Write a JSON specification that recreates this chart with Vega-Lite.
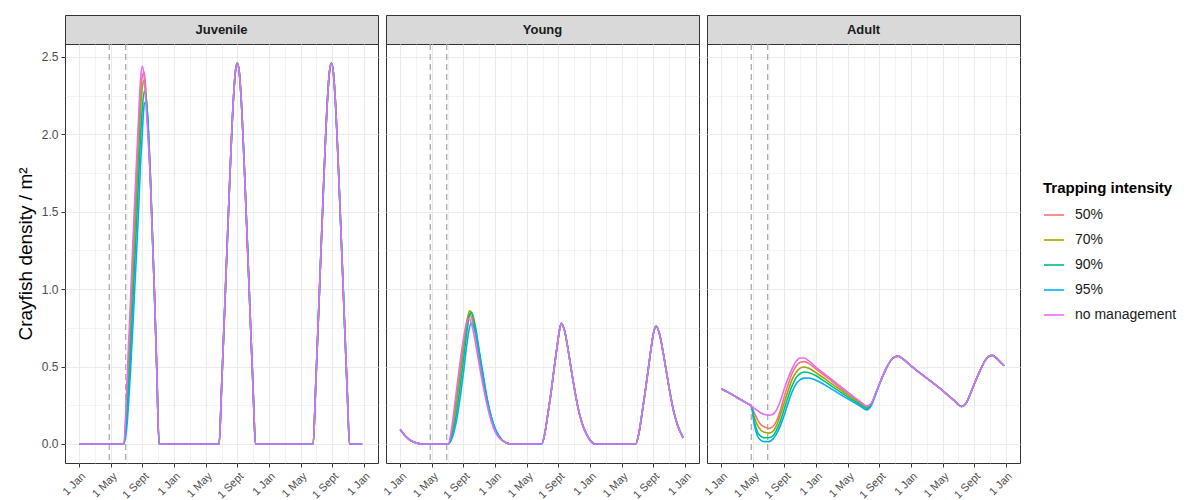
{
"$schema": "https://vega.github.io/schema/vega-lite/v6.json",
"padding": {"left": 15, "top": 14, "right": 0, "bottom": 0},
"config": {
 "font": "Liberation Sans",
 "view": {"stroke": "#333333", "strokeWidth": 1},
 "axis": {"domain": false, "grid": true, "gridColor": "#ebebeb", "tickColor": "#333333", "tickSize": 4, "labelColor": "#4d4d4d", "labelFontSize": 12, "labelPadding": 3, "titleColor": "#000000", "titleFontWeight": "normal", "labelOverlap": false, "labelBound": false}
},
"datasets": {
 "vl": [{"m": 3.8}, {"m": 5.88}],
 "juv": [
{"g":"50%","m":0,"d":0},{"g":"50%","m":5.65,"d":0},{"g":"50%","m":6,"d":0.28},{"g":"50%","m":6.5,"d":0.85},{"g":"50%","m":7,"d":1.45},{"g":"50%","m":7.5,"d":2.0},{"g":"50%","m":7.75,"d":2.26},{"g":"50%","m":8,"d":2.38},{"g":"50%","m":8.25,"d":2.4},{"g":"50%","m":8.5,"d":2.2},{"g":"50%","m":9,"d":1.71},{"g":"50%","m":9.5,"d":1},{"g":"50%","m":9.8,"d":0.5},{"g":"50%","m":10.1,"d":0},
{"g":"50%","m":17.7,"d":0},{"g":"50%","m":18,"d":0.35},{"g":"50%","m":18.5,"d":1},{"g":"50%","m":19,"d":1.65},{"g":"50%","m":19.5,"d":2.22},{"g":"50%","m":19.75,"d":2.4},{"g":"50%","m":20,"d":2.46},{"g":"50%","m":20.25,"d":2.4},{"g":"50%","m":20.5,"d":2.22},{"g":"50%","m":21,"d":1.65},{"g":"50%","m":21.5,"d":1},{"g":"50%","m":22,"d":0.35},{"g":"50%","m":22.3,"d":0},{"g":"50%","m":29.6,"d":0},{"g":"50%","m":29.9,"d":0.35},{"g":"50%","m":30.4,"d":1},{"g":"50%","m":30.9,"d":1.65},{"g":"50%","m":31.4,"d":2.22},{"g":"50%","m":31.65,"d":2.4},{"g":"50%","m":31.9,"d":2.46},{"g":"50%","m":32.15,"d":2.4},{"g":"50%","m":32.4,"d":2.22},{"g":"50%","m":32.9,"d":1.65},{"g":"50%","m":33.4,"d":1},{"g":"50%","m":33.9,"d":0.35},{"g":"50%","m":34.2,"d":0},{"g":"50%","m":35.8,"d":0},
{"g":"70%","m":0,"d":0},{"g":"70%","m":5.65,"d":0},{"g":"70%","m":6,"d":0.22},{"g":"70%","m":6.5,"d":0.75},{"g":"70%","m":7,"d":1.32},{"g":"70%","m":7.5,"d":1.88},{"g":"70%","m":7.75,"d":2.15},{"g":"70%","m":8,"d":2.31},{"g":"70%","m":8.25,"d":2.35},{"g":"70%","m":8.5,"d":2.22},{"g":"70%","m":9,"d":1.72},{"g":"70%","m":9.5,"d":1},{"g":"70%","m":9.8,"d":0.5},{"g":"70%","m":10.1,"d":0},
{"g":"70%","m":17.7,"d":0},{"g":"70%","m":18,"d":0.35},{"g":"70%","m":18.5,"d":1},{"g":"70%","m":19,"d":1.65},{"g":"70%","m":19.5,"d":2.22},{"g":"70%","m":19.75,"d":2.4},{"g":"70%","m":20,"d":2.46},{"g":"70%","m":20.25,"d":2.4},{"g":"70%","m":20.5,"d":2.22},{"g":"70%","m":21,"d":1.65},{"g":"70%","m":21.5,"d":1},{"g":"70%","m":22,"d":0.35},{"g":"70%","m":22.3,"d":0},{"g":"70%","m":29.6,"d":0},{"g":"70%","m":29.9,"d":0.35},{"g":"70%","m":30.4,"d":1},{"g":"70%","m":30.9,"d":1.65},{"g":"70%","m":31.4,"d":2.22},{"g":"70%","m":31.65,"d":2.4},{"g":"70%","m":31.9,"d":2.46},{"g":"70%","m":32.15,"d":2.4},{"g":"70%","m":32.4,"d":2.22},{"g":"70%","m":32.9,"d":1.65},{"g":"70%","m":33.4,"d":1},{"g":"70%","m":33.9,"d":0.35},{"g":"70%","m":34.2,"d":0},{"g":"70%","m":35.8,"d":0},
{"g":"90%","m":0,"d":0},{"g":"90%","m":5.65,"d":0},{"g":"90%","m":6,"d":0.15},{"g":"90%","m":6.5,"d":0.6},{"g":"90%","m":7,"d":1.15},{"g":"90%","m":7.5,"d":1.7},{"g":"90%","m":7.75,"d":1.98},{"g":"90%","m":8,"d":2.18},{"g":"90%","m":8.25,"d":2.28},{"g":"90%","m":8.5,"d":2.22},{"g":"90%","m":9,"d":1.73},{"g":"90%","m":9.5,"d":1},{"g":"90%","m":9.8,"d":0.5},{"g":"90%","m":10.1,"d":0},
{"g":"90%","m":17.7,"d":0},{"g":"90%","m":18,"d":0.35},{"g":"90%","m":18.5,"d":1},{"g":"90%","m":19,"d":1.65},{"g":"90%","m":19.5,"d":2.22},{"g":"90%","m":19.75,"d":2.4},{"g":"90%","m":20,"d":2.46},{"g":"90%","m":20.25,"d":2.4},{"g":"90%","m":20.5,"d":2.22},{"g":"90%","m":21,"d":1.65},{"g":"90%","m":21.5,"d":1},{"g":"90%","m":22,"d":0.35},{"g":"90%","m":22.3,"d":0},{"g":"90%","m":29.6,"d":0},{"g":"90%","m":29.9,"d":0.35},{"g":"90%","m":30.4,"d":1},{"g":"90%","m":30.9,"d":1.65},{"g":"90%","m":31.4,"d":2.22},{"g":"90%","m":31.65,"d":2.4},{"g":"90%","m":31.9,"d":2.46},{"g":"90%","m":32.15,"d":2.4},{"g":"90%","m":32.4,"d":2.22},{"g":"90%","m":32.9,"d":1.65},{"g":"90%","m":33.4,"d":1},{"g":"90%","m":33.9,"d":0.35},{"g":"90%","m":34.2,"d":0},{"g":"90%","m":35.8,"d":0},
{"g":"95%","m":0,"d":0},{"g":"95%","m":5.65,"d":0},{"g":"95%","m":6,"d":0.1},{"g":"95%","m":6.5,"d":0.48},{"g":"95%","m":7,"d":0.98},{"g":"95%","m":7.5,"d":1.5},{"g":"95%","m":7.75,"d":1.8},{"g":"95%","m":8,"d":2.03},{"g":"95%","m":8.25,"d":2.2},{"g":"95%","m":8.5,"d":2.21},{"g":"95%","m":9,"d":1.74},{"g":"95%","m":9.5,"d":1},{"g":"95%","m":9.8,"d":0.5},{"g":"95%","m":10.1,"d":0},
{"g":"95%","m":17.7,"d":0},{"g":"95%","m":18,"d":0.35},{"g":"95%","m":18.5,"d":1},{"g":"95%","m":19,"d":1.65},{"g":"95%","m":19.5,"d":2.22},{"g":"95%","m":19.75,"d":2.4},{"g":"95%","m":20,"d":2.46},{"g":"95%","m":20.25,"d":2.4},{"g":"95%","m":20.5,"d":2.22},{"g":"95%","m":21,"d":1.65},{"g":"95%","m":21.5,"d":1},{"g":"95%","m":22,"d":0.35},{"g":"95%","m":22.3,"d":0},{"g":"95%","m":29.6,"d":0},{"g":"95%","m":29.9,"d":0.35},{"g":"95%","m":30.4,"d":1},{"g":"95%","m":30.9,"d":1.65},{"g":"95%","m":31.4,"d":2.22},{"g":"95%","m":31.65,"d":2.4},{"g":"95%","m":31.9,"d":2.46},{"g":"95%","m":32.15,"d":2.4},{"g":"95%","m":32.4,"d":2.22},{"g":"95%","m":32.9,"d":1.65},{"g":"95%","m":33.4,"d":1},{"g":"95%","m":33.9,"d":0.35},{"g":"95%","m":34.2,"d":0},{"g":"95%","m":35.8,"d":0},
{"g":"no management","m":0,"d":0},{"g":"no management","m":5.65,"d":0},{"g":"no management","m":6,"d":0.35},{"g":"no management","m":6.5,"d":0.95},{"g":"no management","m":7,"d":1.55},{"g":"no management","m":7.5,"d":2.1},{"g":"no management","m":7.75,"d":2.35},{"g":"no management","m":8,"d":2.44},{"g":"no management","m":8.25,"d":2.35},{"g":"no management","m":8.5,"d":2.15},{"g":"no management","m":9,"d":1.7},{"g":"no management","m":9.5,"d":1},{"g":"no management","m":9.8,"d":0.5},{"g":"no management","m":10.1,"d":0},
{"g":"no management","m":17.7,"d":0},{"g":"no management","m":18,"d":0.35},{"g":"no management","m":18.5,"d":1},{"g":"no management","m":19,"d":1.65},{"g":"no management","m":19.5,"d":2.22},{"g":"no management","m":19.75,"d":2.4},{"g":"no management","m":20,"d":2.46},{"g":"no management","m":20.25,"d":2.4},{"g":"no management","m":20.5,"d":2.22},{"g":"no management","m":21,"d":1.65},{"g":"no management","m":21.5,"d":1},{"g":"no management","m":22,"d":0.35},{"g":"no management","m":22.3,"d":0},{"g":"no management","m":29.6,"d":0},{"g":"no management","m":29.9,"d":0.35},{"g":"no management","m":30.4,"d":1},{"g":"no management","m":30.9,"d":1.65},{"g":"no management","m":31.4,"d":2.22},{"g":"no management","m":31.65,"d":2.4},{"g":"no management","m":31.9,"d":2.46},{"g":"no management","m":32.15,"d":2.4},{"g":"no management","m":32.4,"d":2.22},{"g":"no management","m":32.9,"d":1.65},{"g":"no management","m":33.4,"d":1},{"g":"no management","m":33.9,"d":0.35},{"g":"no management","m":34.2,"d":0},{"g":"no management","m":35.8,"d":0}
 ],
 "yng": [
{"g":"50%","m":0,"d":0.093},{"g":"50%","m":0.5,"d":0.06},{"g":"50%","m":1,"d":0.035},{"g":"50%","m":1.5,"d":0.017},{"g":"50%","m":2,"d":0.007},{"g":"50%","m":2.7,"d":0},{"g":"50%","m":6.1,"d":0},
{"g":"50%","m":6.5,"d":0.08},{"g":"50%","m":7,"d":0.26},{"g":"50%","m":7.5,"d":0.46},{"g":"50%","m":8,"d":0.65},{"g":"50%","m":8.5,"d":0.81},{"g":"50%","m":8.75,"d":0.84},{"g":"50%","m":9,"d":0.82},{"g":"50%","m":9.5,"d":0.71},{"g":"50%","m":10,"d":0.55},{"g":"50%","m":10.5,"d":0.4},{"g":"50%","m":11,"d":0.27},{"g":"50%","m":11.5,"d":0.16},{"g":"50%","m":12,"d":0.09},{"g":"50%","m":12.5,"d":0.05},{"g":"50%","m":13,"d":0.02},{"g":"50%","m":14,"d":0},
{"g":"50%","m":17.9,"d":0},{"g":"50%","m":18.3,"d":0.07},{"g":"50%","m":18.7,"d":0.2},{"g":"50%","m":19.1,"d":0.34},{"g":"50%","m":19.5,"d":0.5},{"g":"50%","m":19.9,"d":0.65},{"g":"50%","m":20.2,"d":0.75},{"g":"50%","m":20.4,"d":0.78},{"g":"50%","m":20.8,"d":0.73},{"g":"50%","m":21.3,"d":0.59},{"g":"50%","m":21.7,"d":0.46},{"g":"50%","m":22.1,"d":0.34},{"g":"50%","m":22.6,"d":0.21},{"g":"50%","m":23.1,"d":0.12},{"g":"50%","m":23.6,"d":0.06},{"g":"50%","m":24.1,"d":0.02},{"g":"50%","m":24.6,"d":0},{"g":"50%","m":29.8,"d":0},{"g":"50%","m":30.2,"d":0.07},{"g":"50%","m":30.6,"d":0.2},{"g":"50%","m":31,"d":0.34},{"g":"50%","m":31.4,"d":0.49},{"g":"50%","m":31.8,"d":0.64},{"g":"50%","m":32.1,"d":0.73},{"g":"50%","m":32.4,"d":0.76},{"g":"50%","m":32.8,"d":0.71},{"g":"50%","m":33.3,"d":0.58},{"g":"50%","m":33.7,"d":0.46},{"g":"50%","m":34.1,"d":0.34},{"g":"50%","m":34.6,"d":0.21},{"g":"50%","m":35.1,"d":0.12},{"g":"50%","m":35.8,"d":0.04},
{"g":"70%","m":0,"d":0.093},{"g":"70%","m":0.5,"d":0.06},{"g":"70%","m":1,"d":0.035},{"g":"70%","m":1.5,"d":0.017},{"g":"70%","m":2,"d":0.007},{"g":"70%","m":2.7,"d":0},{"g":"70%","m":6.1,"d":0},
{"g":"70%","m":6.5,"d":0.06},{"g":"70%","m":7,"d":0.22},{"g":"70%","m":7.5,"d":0.41},{"g":"70%","m":8,"d":0.61},{"g":"70%","m":8.5,"d":0.8},{"g":"70%","m":8.75,"d":0.86},{"g":"70%","m":9,"d":0.85},{"g":"70%","m":9.5,"d":0.74},{"g":"70%","m":10,"d":0.58},{"g":"70%","m":10.5,"d":0.42},{"g":"70%","m":11,"d":0.28},{"g":"70%","m":11.5,"d":0.17},{"g":"70%","m":12,"d":0.1},{"g":"70%","m":12.5,"d":0.05},{"g":"70%","m":13,"d":0.02},{"g":"70%","m":14,"d":0},
{"g":"70%","m":17.9,"d":0},{"g":"70%","m":18.3,"d":0.07},{"g":"70%","m":18.7,"d":0.2},{"g":"70%","m":19.1,"d":0.34},{"g":"70%","m":19.5,"d":0.5},{"g":"70%","m":19.9,"d":0.65},{"g":"70%","m":20.2,"d":0.75},{"g":"70%","m":20.4,"d":0.78},{"g":"70%","m":20.8,"d":0.73},{"g":"70%","m":21.3,"d":0.59},{"g":"70%","m":21.7,"d":0.46},{"g":"70%","m":22.1,"d":0.34},{"g":"70%","m":22.6,"d":0.21},{"g":"70%","m":23.1,"d":0.12},{"g":"70%","m":23.6,"d":0.06},{"g":"70%","m":24.1,"d":0.02},{"g":"70%","m":24.6,"d":0},{"g":"70%","m":29.8,"d":0},{"g":"70%","m":30.2,"d":0.07},{"g":"70%","m":30.6,"d":0.2},{"g":"70%","m":31,"d":0.34},{"g":"70%","m":31.4,"d":0.49},{"g":"70%","m":31.8,"d":0.64},{"g":"70%","m":32.1,"d":0.73},{"g":"70%","m":32.4,"d":0.76},{"g":"70%","m":32.8,"d":0.71},{"g":"70%","m":33.3,"d":0.58},{"g":"70%","m":33.7,"d":0.46},{"g":"70%","m":34.1,"d":0.34},{"g":"70%","m":34.6,"d":0.21},{"g":"70%","m":35.1,"d":0.12},{"g":"70%","m":35.8,"d":0.04},
{"g":"90%","m":0,"d":0.093},{"g":"90%","m":0.5,"d":0.06},{"g":"90%","m":1,"d":0.035},{"g":"90%","m":1.5,"d":0.017},{"g":"90%","m":2,"d":0.007},{"g":"90%","m":2.7,"d":0},{"g":"90%","m":6.1,"d":0},
{"g":"90%","m":6.5,"d":0.04},{"g":"90%","m":7,"d":0.16},{"g":"90%","m":7.5,"d":0.34},{"g":"90%","m":8,"d":0.54},{"g":"90%","m":8.5,"d":0.75},{"g":"90%","m":8.75,"d":0.83},{"g":"90%","m":9,"d":0.85},{"g":"90%","m":9.5,"d":0.76},{"g":"90%","m":10,"d":0.6},{"g":"90%","m":10.5,"d":0.44},{"g":"90%","m":11,"d":0.29},{"g":"90%","m":11.5,"d":0.18},{"g":"90%","m":12,"d":0.1},{"g":"90%","m":12.5,"d":0.05},{"g":"90%","m":13,"d":0.02},{"g":"90%","m":14,"d":0},
{"g":"90%","m":17.9,"d":0},{"g":"90%","m":18.3,"d":0.07},{"g":"90%","m":18.7,"d":0.2},{"g":"90%","m":19.1,"d":0.34},{"g":"90%","m":19.5,"d":0.5},{"g":"90%","m":19.9,"d":0.65},{"g":"90%","m":20.2,"d":0.75},{"g":"90%","m":20.4,"d":0.78},{"g":"90%","m":20.8,"d":0.73},{"g":"90%","m":21.3,"d":0.59},{"g":"90%","m":21.7,"d":0.46},{"g":"90%","m":22.1,"d":0.34},{"g":"90%","m":22.6,"d":0.21},{"g":"90%","m":23.1,"d":0.12},{"g":"90%","m":23.6,"d":0.06},{"g":"90%","m":24.1,"d":0.02},{"g":"90%","m":24.6,"d":0},{"g":"90%","m":29.8,"d":0},{"g":"90%","m":30.2,"d":0.07},{"g":"90%","m":30.6,"d":0.2},{"g":"90%","m":31,"d":0.34},{"g":"90%","m":31.4,"d":0.49},{"g":"90%","m":31.8,"d":0.64},{"g":"90%","m":32.1,"d":0.73},{"g":"90%","m":32.4,"d":0.76},{"g":"90%","m":32.8,"d":0.71},{"g":"90%","m":33.3,"d":0.58},{"g":"90%","m":33.7,"d":0.46},{"g":"90%","m":34.1,"d":0.34},{"g":"90%","m":34.6,"d":0.21},{"g":"90%","m":35.1,"d":0.12},{"g":"90%","m":35.8,"d":0.04},
{"g":"95%","m":0,"d":0.093},{"g":"95%","m":0.5,"d":0.06},{"g":"95%","m":1,"d":0.035},{"g":"95%","m":1.5,"d":0.017},{"g":"95%","m":2,"d":0.007},{"g":"95%","m":2.7,"d":0},{"g":"95%","m":6.1,"d":0},
{"g":"95%","m":6.5,"d":0.03},{"g":"95%","m":7,"d":0.12},{"g":"95%","m":7.5,"d":0.27},{"g":"95%","m":8,"d":0.46},{"g":"95%","m":8.5,"d":0.67},{"g":"95%","m":8.75,"d":0.75},{"g":"95%","m":9,"d":0.78},{"g":"95%","m":9.5,"d":0.73},{"g":"95%","m":10,"d":0.59},{"g":"95%","m":10.5,"d":0.44},{"g":"95%","m":11,"d":0.29},{"g":"95%","m":11.5,"d":0.18},{"g":"95%","m":12,"d":0.1},{"g":"95%","m":12.5,"d":0.05},{"g":"95%","m":13,"d":0.02},{"g":"95%","m":14,"d":0},
{"g":"95%","m":17.9,"d":0},{"g":"95%","m":18.3,"d":0.07},{"g":"95%","m":18.7,"d":0.2},{"g":"95%","m":19.1,"d":0.34},{"g":"95%","m":19.5,"d":0.5},{"g":"95%","m":19.9,"d":0.65},{"g":"95%","m":20.2,"d":0.75},{"g":"95%","m":20.4,"d":0.78},{"g":"95%","m":20.8,"d":0.73},{"g":"95%","m":21.3,"d":0.59},{"g":"95%","m":21.7,"d":0.46},{"g":"95%","m":22.1,"d":0.34},{"g":"95%","m":22.6,"d":0.21},{"g":"95%","m":23.1,"d":0.12},{"g":"95%","m":23.6,"d":0.06},{"g":"95%","m":24.1,"d":0.02},{"g":"95%","m":24.6,"d":0},{"g":"95%","m":29.8,"d":0},{"g":"95%","m":30.2,"d":0.07},{"g":"95%","m":30.6,"d":0.2},{"g":"95%","m":31,"d":0.34},{"g":"95%","m":31.4,"d":0.49},{"g":"95%","m":31.8,"d":0.64},{"g":"95%","m":32.1,"d":0.73},{"g":"95%","m":32.4,"d":0.76},{"g":"95%","m":32.8,"d":0.71},{"g":"95%","m":33.3,"d":0.58},{"g":"95%","m":33.7,"d":0.46},{"g":"95%","m":34.1,"d":0.34},{"g":"95%","m":34.6,"d":0.21},{"g":"95%","m":35.1,"d":0.12},{"g":"95%","m":35.8,"d":0.04},
{"g":"no management","m":0,"d":0.093},{"g":"no management","m":0.5,"d":0.06},{"g":"no management","m":1,"d":0.035},{"g":"no management","m":1.5,"d":0.017},{"g":"no management","m":2,"d":0.007},{"g":"no management","m":2.7,"d":0},{"g":"no management","m":6.1,"d":0},
{"g":"no management","m":6.5,"d":0.1},{"g":"no management","m":7,"d":0.3},{"g":"no management","m":7.5,"d":0.5},{"g":"no management","m":8,"d":0.68},{"g":"no management","m":8.5,"d":0.8},{"g":"no management","m":8.75,"d":0.81},{"g":"no management","m":9,"d":0.78},{"g":"no management","m":9.5,"d":0.66},{"g":"no management","m":10,"d":0.51},{"g":"no management","m":10.5,"d":0.37},{"g":"no management","m":11,"d":0.25},{"g":"no management","m":11.5,"d":0.15},{"g":"no management","m":12,"d":0.08},{"g":"no management","m":12.5,"d":0.04},{"g":"no management","m":13,"d":0.02},{"g":"no management","m":14,"d":0},
{"g":"no management","m":17.9,"d":0},{"g":"no management","m":18.3,"d":0.07},{"g":"no management","m":18.7,"d":0.2},{"g":"no management","m":19.1,"d":0.34},{"g":"no management","m":19.5,"d":0.5},{"g":"no management","m":19.9,"d":0.65},{"g":"no management","m":20.2,"d":0.75},{"g":"no management","m":20.4,"d":0.78},{"g":"no management","m":20.8,"d":0.73},{"g":"no management","m":21.3,"d":0.59},{"g":"no management","m":21.7,"d":0.46},{"g":"no management","m":22.1,"d":0.34},{"g":"no management","m":22.6,"d":0.21},{"g":"no management","m":23.1,"d":0.12},{"g":"no management","m":23.6,"d":0.06},{"g":"no management","m":24.1,"d":0.02},{"g":"no management","m":24.6,"d":0},{"g":"no management","m":29.8,"d":0},{"g":"no management","m":30.2,"d":0.07},{"g":"no management","m":30.6,"d":0.2},{"g":"no management","m":31,"d":0.34},{"g":"no management","m":31.4,"d":0.49},{"g":"no management","m":31.8,"d":0.64},{"g":"no management","m":32.1,"d":0.73},{"g":"no management","m":32.4,"d":0.76},{"g":"no management","m":32.8,"d":0.71},{"g":"no management","m":33.3,"d":0.58},{"g":"no management","m":33.7,"d":0.46},{"g":"no management","m":34.1,"d":0.34},{"g":"no management","m":34.6,"d":0.21},{"g":"no management","m":35.1,"d":0.12},{"g":"no management","m":35.8,"d":0.04}
 ],
 "adu": [
{"g":"50%","m":0,"d":0.357},{"g":"50%","m":1,"d":0.33},{"g":"50%","m":2,"d":0.3},{"g":"50%","m":3,"d":0.27},{"g":"50%","m":3.8,"d":0.245},
{"g":"50%","m":4.2,"d":0.2},{"g":"50%","m":4.6,"d":0.155},{"g":"50%","m":5,"d":0.125},{"g":"50%","m":5.5,"d":0.11},{"g":"50%","m":6,"d":0.1},{"g":"50%","m":6.5,"d":0.11},{"g":"50%","m":7,"d":0.15},{"g":"50%","m":7.5,"d":0.22},{"g":"50%","m":8,"d":0.31},{"g":"50%","m":8.5,"d":0.39},{"g":"50%","m":9,"d":0.46},{"g":"50%","m":9.5,"d":0.505},{"g":"50%","m":10,"d":0.528},{"g":"50%","m":10.5,"d":0.532},{"g":"50%","m":11,"d":0.522},{"g":"50%","m":12,"d":0.483},{"g":"50%","m":13,"d":0.445},{"g":"50%","m":14,"d":0.405},{"g":"50%","m":15,"d":0.366},{"g":"50%","m":16,"d":0.328},{"g":"50%","m":17,"d":0.29},{"g":"50%","m":17.8,"d":0.26},{"g":"50%","m":18.4,"d":0.242},{"g":"50%","m":19,"d":0.263},{"g":"50%","m":19.6,"d":0.335},
{"g":"50%","m":20.2,"d":0.41},{"g":"50%","m":20.8,"d":0.48},{"g":"50%","m":21.4,"d":0.535},{"g":"50%","m":21.9,"d":0.56},{"g":"50%","m":22.4,"d":0.567},{"g":"50%","m":22.9,"d":0.553},{"g":"50%","m":24,"d":0.505},{"g":"50%","m":26,"d":0.425},{"g":"50%","m":28,"d":0.345},{"g":"50%","m":29.5,"d":0.28},{"g":"50%","m":30.4,"d":0.242},{"g":"50%","m":31,"d":0.265},{"g":"50%","m":31.6,"d":0.335},{"g":"50%","m":32.2,"d":0.41},{"g":"50%","m":32.8,"d":0.48},{"g":"50%","m":33.4,"d":0.54},{"g":"50%","m":33.9,"d":0.567},{"g":"50%","m":34.3,"d":0.572},{"g":"50%","m":34.7,"d":0.56},{"g":"50%","m":35.2,"d":0.535},{"g":"50%","m":35.8,"d":0.505},
{"g":"70%","m":0,"d":0.357},{"g":"70%","m":1,"d":0.33},{"g":"70%","m":2,"d":0.3},{"g":"70%","m":3,"d":0.27},{"g":"70%","m":3.8,"d":0.245},
{"g":"70%","m":4.2,"d":0.17},{"g":"70%","m":4.6,"d":0.12},{"g":"70%","m":5,"d":0.09},{"g":"70%","m":5.5,"d":0.075},{"g":"70%","m":6,"d":0.07},{"g":"70%","m":6.5,"d":0.08},{"g":"70%","m":7,"d":0.12},{"g":"70%","m":7.5,"d":0.19},{"g":"70%","m":8,"d":0.27},{"g":"70%","m":8.5,"d":0.35},{"g":"70%","m":9,"d":0.42},{"g":"70%","m":9.5,"d":0.465},{"g":"70%","m":10,"d":0.49},{"g":"70%","m":10.5,"d":0.497},{"g":"70%","m":11,"d":0.49},{"g":"70%","m":12,"d":0.46},{"g":"70%","m":13,"d":0.425},{"g":"70%","m":14,"d":0.388},{"g":"70%","m":15,"d":0.352},{"g":"70%","m":16,"d":0.317},{"g":"70%","m":17,"d":0.282},{"g":"70%","m":17.8,"d":0.254},{"g":"70%","m":18.4,"d":0.237},{"g":"70%","m":19,"d":0.26},{"g":"70%","m":19.6,"d":0.333},
{"g":"70%","m":20.2,"d":0.41},{"g":"70%","m":20.8,"d":0.48},{"g":"70%","m":21.4,"d":0.535},{"g":"70%","m":21.9,"d":0.56},{"g":"70%","m":22.4,"d":0.567},{"g":"70%","m":22.9,"d":0.553},{"g":"70%","m":24,"d":0.505},{"g":"70%","m":26,"d":0.425},{"g":"70%","m":28,"d":0.345},{"g":"70%","m":29.5,"d":0.28},{"g":"70%","m":30.4,"d":0.242},{"g":"70%","m":31,"d":0.265},{"g":"70%","m":31.6,"d":0.335},{"g":"70%","m":32.2,"d":0.41},{"g":"70%","m":32.8,"d":0.48},{"g":"70%","m":33.4,"d":0.54},{"g":"70%","m":33.9,"d":0.567},{"g":"70%","m":34.3,"d":0.572},{"g":"70%","m":34.7,"d":0.56},{"g":"70%","m":35.2,"d":0.535},{"g":"70%","m":35.8,"d":0.505},
{"g":"90%","m":0,"d":0.357},{"g":"90%","m":1,"d":0.33},{"g":"90%","m":2,"d":0.3},{"g":"90%","m":3,"d":0.27},{"g":"90%","m":3.8,"d":0.245},
{"g":"90%","m":4.2,"d":0.14},{"g":"90%","m":4.6,"d":0.075},{"g":"90%","m":5,"d":0.05},{"g":"90%","m":5.5,"d":0.04},{"g":"90%","m":6,"d":0.04},{"g":"90%","m":6.5,"d":0.05},{"g":"90%","m":7,"d":0.09},{"g":"90%","m":7.5,"d":0.15},{"g":"90%","m":8,"d":0.23},{"g":"90%","m":8.5,"d":0.31},{"g":"90%","m":9,"d":0.38},{"g":"90%","m":9.5,"d":0.43},{"g":"90%","m":10,"d":0.455},{"g":"90%","m":10.5,"d":0.465},{"g":"90%","m":11,"d":0.462},{"g":"90%","m":12,"d":0.44},{"g":"90%","m":13,"d":0.407},{"g":"90%","m":14,"d":0.372},{"g":"90%","m":15,"d":0.338},{"g":"90%","m":16,"d":0.304},{"g":"90%","m":17,"d":0.272},{"g":"90%","m":17.8,"d":0.245},{"g":"90%","m":18.4,"d":0.229},{"g":"90%","m":19,"d":0.255},{"g":"90%","m":19.6,"d":0.33},
{"g":"90%","m":20.2,"d":0.41},{"g":"90%","m":20.8,"d":0.48},{"g":"90%","m":21.4,"d":0.535},{"g":"90%","m":21.9,"d":0.56},{"g":"90%","m":22.4,"d":0.567},{"g":"90%","m":22.9,"d":0.553},{"g":"90%","m":24,"d":0.505},{"g":"90%","m":26,"d":0.425},{"g":"90%","m":28,"d":0.345},{"g":"90%","m":29.5,"d":0.28},{"g":"90%","m":30.4,"d":0.242},{"g":"90%","m":31,"d":0.265},{"g":"90%","m":31.6,"d":0.335},{"g":"90%","m":32.2,"d":0.41},{"g":"90%","m":32.8,"d":0.48},{"g":"90%","m":33.4,"d":0.54},{"g":"90%","m":33.9,"d":0.567},{"g":"90%","m":34.3,"d":0.572},{"g":"90%","m":34.7,"d":0.56},{"g":"90%","m":35.2,"d":0.535},{"g":"90%","m":35.8,"d":0.505},
{"g":"95%","m":0,"d":0.357},{"g":"95%","m":1,"d":0.33},{"g":"95%","m":2,"d":0.3},{"g":"95%","m":3,"d":0.27},{"g":"95%","m":3.8,"d":0.245},
{"g":"95%","m":4.2,"d":0.12},{"g":"95%","m":4.6,"d":0.05},{"g":"95%","m":5,"d":0.025},{"g":"95%","m":5.5,"d":0.015},{"g":"95%","m":6,"d":0.015},{"g":"95%","m":6.5,"d":0.03},{"g":"95%","m":7,"d":0.065},{"g":"95%","m":7.5,"d":0.12},{"g":"95%","m":8,"d":0.19},{"g":"95%","m":8.5,"d":0.27},{"g":"95%","m":9,"d":0.34},{"g":"95%","m":9.5,"d":0.39},{"g":"95%","m":10,"d":0.415},{"g":"95%","m":10.5,"d":0.425},{"g":"95%","m":11,"d":0.426},{"g":"95%","m":12,"d":0.412},{"g":"95%","m":13,"d":0.385},{"g":"95%","m":14,"d":0.354},{"g":"95%","m":15,"d":0.322},{"g":"95%","m":16,"d":0.291},{"g":"95%","m":17,"d":0.262},{"g":"95%","m":17.8,"d":0.236},{"g":"95%","m":18.4,"d":0.22},{"g":"95%","m":19,"d":0.25},{"g":"95%","m":19.6,"d":0.328},
{"g":"95%","m":20.2,"d":0.41},{"g":"95%","m":20.8,"d":0.48},{"g":"95%","m":21.4,"d":0.535},{"g":"95%","m":21.9,"d":0.56},{"g":"95%","m":22.4,"d":0.567},{"g":"95%","m":22.9,"d":0.553},{"g":"95%","m":24,"d":0.505},{"g":"95%","m":26,"d":0.425},{"g":"95%","m":28,"d":0.345},{"g":"95%","m":29.5,"d":0.28},{"g":"95%","m":30.4,"d":0.242},{"g":"95%","m":31,"d":0.265},{"g":"95%","m":31.6,"d":0.335},{"g":"95%","m":32.2,"d":0.41},{"g":"95%","m":32.8,"d":0.48},{"g":"95%","m":33.4,"d":0.54},{"g":"95%","m":33.9,"d":0.567},{"g":"95%","m":34.3,"d":0.572},{"g":"95%","m":34.7,"d":0.56},{"g":"95%","m":35.2,"d":0.535},{"g":"95%","m":35.8,"d":0.505},
{"g":"no management","m":0,"d":0.357},{"g":"no management","m":1,"d":0.33},{"g":"no management","m":2,"d":0.3},{"g":"no management","m":3,"d":0.27},{"g":"no management","m":3.8,"d":0.245},
{"g":"no management","m":4.2,"d":0.23},{"g":"no management","m":4.6,"d":0.215},{"g":"no management","m":5,"d":0.2},{"g":"no management","m":5.5,"d":0.19},{"g":"no management","m":6,"d":0.185},{"g":"no management","m":6.5,"d":0.19},{"g":"no management","m":7,"d":0.22},{"g":"no management","m":7.5,"d":0.28},{"g":"no management","m":8,"d":0.36},{"g":"no management","m":8.5,"d":0.43},{"g":"no management","m":9,"d":0.49},{"g":"no management","m":9.5,"d":0.535},{"g":"no management","m":10,"d":0.555},{"g":"no management","m":10.5,"d":0.555},{"g":"no management","m":11,"d":0.54},{"g":"no management","m":12,"d":0.495},{"g":"no management","m":13,"d":0.455},{"g":"no management","m":14,"d":0.415},{"g":"no management","m":15,"d":0.375},{"g":"no management","m":16,"d":0.335},{"g":"no management","m":17,"d":0.295},{"g":"no management","m":17.8,"d":0.265},{"g":"no management","m":18.4,"d":0.245},{"g":"no management","m":19,"d":0.265},{"g":"no management","m":19.6,"d":0.335},
{"g":"no management","m":20.2,"d":0.41},{"g":"no management","m":20.8,"d":0.48},{"g":"no management","m":21.4,"d":0.535},{"g":"no management","m":21.9,"d":0.56},{"g":"no management","m":22.4,"d":0.567},{"g":"no management","m":22.9,"d":0.553},{"g":"no management","m":24,"d":0.505},{"g":"no management","m":26,"d":0.425},{"g":"no management","m":28,"d":0.345},{"g":"no management","m":29.5,"d":0.28},{"g":"no management","m":30.4,"d":0.242},{"g":"no management","m":31,"d":0.265},{"g":"no management","m":31.6,"d":0.335},{"g":"no management","m":32.2,"d":0.41},{"g":"no management","m":32.8,"d":0.48},{"g":"no management","m":33.4,"d":0.54},{"g":"no management","m":33.9,"d":0.567},{"g":"no management","m":34.3,"d":0.572},{"g":"no management","m":34.7,"d":0.56},{"g":"no management","m":35.2,"d":0.535},{"g":"no management","m":35.8,"d":0.505}
 ]
},
"hconcat": [
 {"vconcat": [
   {"width": 313, "height": 29, "data": {"values": [{"label": "Juvenile"}]}, "mark": {"type": "text", "fontWeight": "bold", "fontSize": 13, "color": "#1a1a1a"}, "encoding": {"text": {"field": "label"}}, "view": {"fill": "#d9d9d9", "stroke": "#333333"}},
   {"width": 313, "height": 419,
    "encoding": {"x": {"field": "m", "type": "quantitative", "scale": {"domain": [-1.8, 37.8], "nice": false, "zero": false},
      "axis": {"title": null, "values": [0,2,4,6,8,10,12,14,16,18,20,22,24,26,28,30,32,34,36], "labelExpr": "datum.value % 4 != 0 ? '' : ['1 Jan','1 May','1 Sept'][(datum.value/4) % 3]", "labelAngle": -45, "labelAlign": "right", "labelBaseline": "top", "labelFontSize": 11,
        "gridWidth": {"condition": {"test": "datum.value % 4 != 0", "value": 0.6}, "value": 1.1}, "tickOpacity": {"condition": {"test": "datum.value % 4 != 0", "value": 0}, "value": 1}}}},
    "layer": [
     {"data": {"name": "vl"}, "mark": {"type": "rule", "color": "#a6a6a6", "strokeDash": [6, 4], "strokeWidth": 1.2}, "encoding": {}},
     {"data": {"name": "juv"}, "mark": {"type": "line", "interpolate": "monotone", "strokeWidth": 1.6},
      "encoding": {
       "y": {"field": "d", "type": "quantitative", "scale": {"domain": [-0.123, 2.583], "nice": false, "zero": false},
        "axis": {"title": "Crayfish density / m²", "titleFontSize": 19, "titlePadding": 6, "values": [0,0.25,0.5,0.75,1,1.25,1.5,1.75,2,2.25,2.5], "labelExpr": "round(datum.value*100) % 50 != 0 ? '' : format(datum.value, '.1f')",
         "gridWidth": {"condition": {"test": "round(datum.value*100) % 50 != 0", "value": 0.6}, "value": 1.1}, "tickOpacity": {"condition": {"test": "round(datum.value*100) % 50 != 0", "value": 0}, "value": 1}}},
       "color": {"field": "g", "type": "nominal", "scale": {"domain": ["50%", "70%", "90%", "95%", "no management"], "range": ["#F8766D", "#A3A500", "#00BF7D", "#00B0F6", "#E76BF3"]},
        "legend": {"title": "Trapping intensity", "orient": "none", "legendX": 978, "legendY": 166, "symbolType": "stroke", "symbolSize": 400, "symbolStrokeWidth": 1.6, "labelFontSize": 14, "titleFontSize": 15, "titleFontWeight": "bold", "titleColor": "#000000", "labelColor": "#1a1a1a", "rowPadding": 7, "titlePadding": 8, "labelOffset": 10}}
      }}
    ]}
  ], "spacing": 0, "bounds": "flush", "resolve": {"scale": {"color": "shared"}}},
 {"vconcat": [
   {"width": 313, "height": 29, "data": {"values": [{"label": "Young"}]}, "mark": {"type": "text", "fontWeight": "bold", "fontSize": 13, "color": "#1a1a1a"}, "encoding": {"text": {"field": "label"}}, "view": {"fill": "#d9d9d9", "stroke": "#333333"}},
   {"width": 313, "height": 419,
    "encoding": {"x": {"field": "m", "type": "quantitative", "scale": {"domain": [-1.8, 37.8], "nice": false, "zero": false},
      "axis": {"title": null, "values": [0,2,4,6,8,10,12,14,16,18,20,22,24,26,28,30,32,34,36], "labelExpr": "datum.value % 4 != 0 ? '' : ['1 Jan','1 May','1 Sept'][(datum.value/4) % 3]", "labelAngle": -45, "labelAlign": "right", "labelBaseline": "top", "labelFontSize": 11,
        "gridWidth": {"condition": {"test": "datum.value % 4 != 0", "value": 0.6}, "value": 1.1}, "tickOpacity": {"condition": {"test": "datum.value % 4 != 0", "value": 0}, "value": 1}}}},
    "layer": [
     {"data": {"name": "vl"}, "mark": {"type": "rule", "color": "#a6a6a6", "strokeDash": [6, 4], "strokeWidth": 1.2}, "encoding": {}},
     {"data": {"name": "yng"}, "mark": {"type": "line", "interpolate": "monotone", "strokeWidth": 1.6},
      "encoding": {
       "y": {"field": "d", "type": "quantitative", "scale": {"domain": [-0.123, 2.583], "nice": false, "zero": false},
        "axis": {"title": null, "labels": false, "ticks": false, "values": [0,0.25,0.5,0.75,1,1.25,1.5,1.75,2,2.25,2.5],
         "gridWidth": {"condition": {"test": "round(datum.value*100) % 50 != 0", "value": 0.6}, "value": 1.1}}},
       "color": {"field": "g", "type": "nominal", "scale": {"domain": ["50%", "70%", "90%", "95%", "no management"], "range": ["#F8766D", "#A3A500", "#00BF7D", "#00B0F6", "#E76BF3"]},
        "legend": {"title": "Trapping intensity", "orient": "none", "legendX": 978, "legendY": 166, "symbolType": "stroke", "symbolSize": 400, "symbolStrokeWidth": 1.6, "labelFontSize": 14, "titleFontSize": 15, "titleFontWeight": "bold", "titleColor": "#000000", "labelColor": "#1a1a1a", "rowPadding": 7, "titlePadding": 8, "labelOffset": 10}}
      }}
    ]}
  ], "spacing": 0, "bounds": "flush", "resolve": {"scale": {"color": "shared"}}},
 {"vconcat": [
   {"width": 313, "height": 29, "data": {"values": [{"label": "Adult"}]}, "mark": {"type": "text", "fontWeight": "bold", "fontSize": 13, "color": "#1a1a1a"}, "encoding": {"text": {"field": "label"}}, "view": {"fill": "#d9d9d9", "stroke": "#333333"}},
   {"width": 313, "height": 419,
    "encoding": {"x": {"field": "m", "type": "quantitative", "scale": {"domain": [-1.8, 37.8], "nice": false, "zero": false},
      "axis": {"title": null, "values": [0,2,4,6,8,10,12,14,16,18,20,22,24,26,28,30,32,34,36], "labelExpr": "datum.value % 4 != 0 ? '' : ['1 Jan','1 May','1 Sept'][(datum.value/4) % 3]", "labelAngle": -45, "labelAlign": "right", "labelBaseline": "top", "labelFontSize": 11,
        "gridWidth": {"condition": {"test": "datum.value % 4 != 0", "value": 0.6}, "value": 1.1}, "tickOpacity": {"condition": {"test": "datum.value % 4 != 0", "value": 0}, "value": 1}}}},
    "layer": [
     {"data": {"name": "vl"}, "mark": {"type": "rule", "color": "#a6a6a6", "strokeDash": [6, 4], "strokeWidth": 1.2}, "encoding": {}},
     {"data": {"name": "adu"}, "mark": {"type": "line", "interpolate": "monotone", "strokeWidth": 1.6},
      "encoding": {
       "y": {"field": "d", "type": "quantitative", "scale": {"domain": [-0.123, 2.583], "nice": false, "zero": false},
        "axis": {"title": null, "labels": false, "ticks": false, "values": [0,0.25,0.5,0.75,1,1.25,1.5,1.75,2,2.25,2.5],
         "gridWidth": {"condition": {"test": "round(datum.value*100) % 50 != 0", "value": 0.6}, "value": 1.1}}},
       "color": {"field": "g", "type": "nominal", "scale": {"domain": ["50%", "70%", "90%", "95%", "no management"], "range": ["#F8766D", "#A3A500", "#00BF7D", "#00B0F6", "#E76BF3"]},
        "legend": {"title": "Trapping intensity", "orient": "none", "legendX": 978, "legendY": 166, "symbolType": "stroke", "symbolSize": 400, "symbolStrokeWidth": 1.6, "labelFontSize": 14, "titleFontSize": 15, "titleFontWeight": "bold", "titleColor": "#000000", "labelColor": "#1a1a1a", "rowPadding": 7, "titlePadding": 8, "labelOffset": 10}}
      }}
    ]}
  ], "spacing": 0, "bounds": "flush", "resolve": {"scale": {"color": "shared"}}}
],
"spacing": 1,
"resolve": {"scale": {"color": "shared"}}
}
